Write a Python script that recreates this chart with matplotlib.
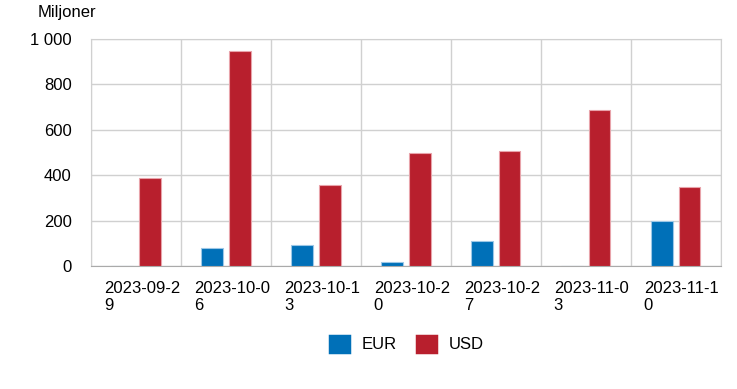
import numpy as np
import matplotlib.pyplot as plt
from matplotlib.patches import Patch

plt.rcParams['font.family'] = ['Liberation Sans', 'DejaVu Sans']

datoer = ['2023-09-29', '2023-10-06', '2023-10-13', '2023-10-20',
          '2023-10-27', '2023-11-03', '2023-11-10']
eur = [0, 78, 93, 17, 111, 0, 198]
usd = [387, 946, 357, 496, 507, 687, 347]

eur_farge = '#0070b8'
usd_farge = '#b81f2d'

fig = plt.figure(figsize=(7.37, 3.89), dpi=100)
ax = fig.add_axes([0.1235, 0.316, 0.8545, 0.584])

x = np.arange(len(datoer)) + 0.5
b = 0.24
g = 0.067
ax.bar(x - (b + g) / 2, eur, b, color=eur_farge, edgecolor='#9cc7e6', linewidth=0.8, zorder=3)
ax.bar(x + (b + g) / 2, usd, b, color=usd_farge, edgecolor='#e8a3aa', linewidth=0.8, zorder=3)

ax.set_xlim(0, len(datoer))
ax.set_ylim(0, 1000)
ax.set_yticks([0, 200, 400, 600, 800, 1000])
ax.set_yticklabels(['0', '200', '400', '600', '800', '1 000'], fontsize=12)

# labels brytes som i originalen
labels = [d[:-1] + '\n' + d[-1] for d in datoer]
ax.set_xticks(np.arange(len(datoer)) + 0.144)
ax.set_xticklabels(labels, ha='left', fontsize=12, linespacing=1.1)
ax.set_xticks(np.arange(len(datoer) + 1), minor=True)
ax.tick_params(axis='x', which='major', length=0, pad=11)
ax.tick_params(axis='x', which='minor', length=0)
ax.tick_params(axis='y', length=0, pad=14)

ax.grid(True, axis='y', color='#d0d0d0', linewidth=1, zorder=0)
ax.grid(True, axis='x', which='minor', color='#d0d0d0', linewidth=1, zorder=0)
for s in ['top', 'right', 'left']:
    ax.spines[s].set_color('#d0d0d0')
ax.spines['bottom'].set_color('#aaaaaa')

fig.text(38 / 737, 1 - 12 / 389, 'Miljoner', fontsize=12, va='center', ha='left')

handles = [Patch(facecolor=eur_farge, edgecolor=eur_farge, linewidth=2.5, joinstyle='round', label='EUR'),
           Patch(facecolor=usd_farge, edgecolor=usd_farge, linewidth=2.5, joinstyle='round', label='USD')]
fig.legend(handles=handles, loc='center', bbox_to_anchor=(0.552, 0.116), ncol=2,
           frameon=False, fontsize=12, handlelength=1.17, handleheight=1.11,
           handletextpad=0.75, columnspacing=1.2)

plt.savefig('out.png', dpi=100)
